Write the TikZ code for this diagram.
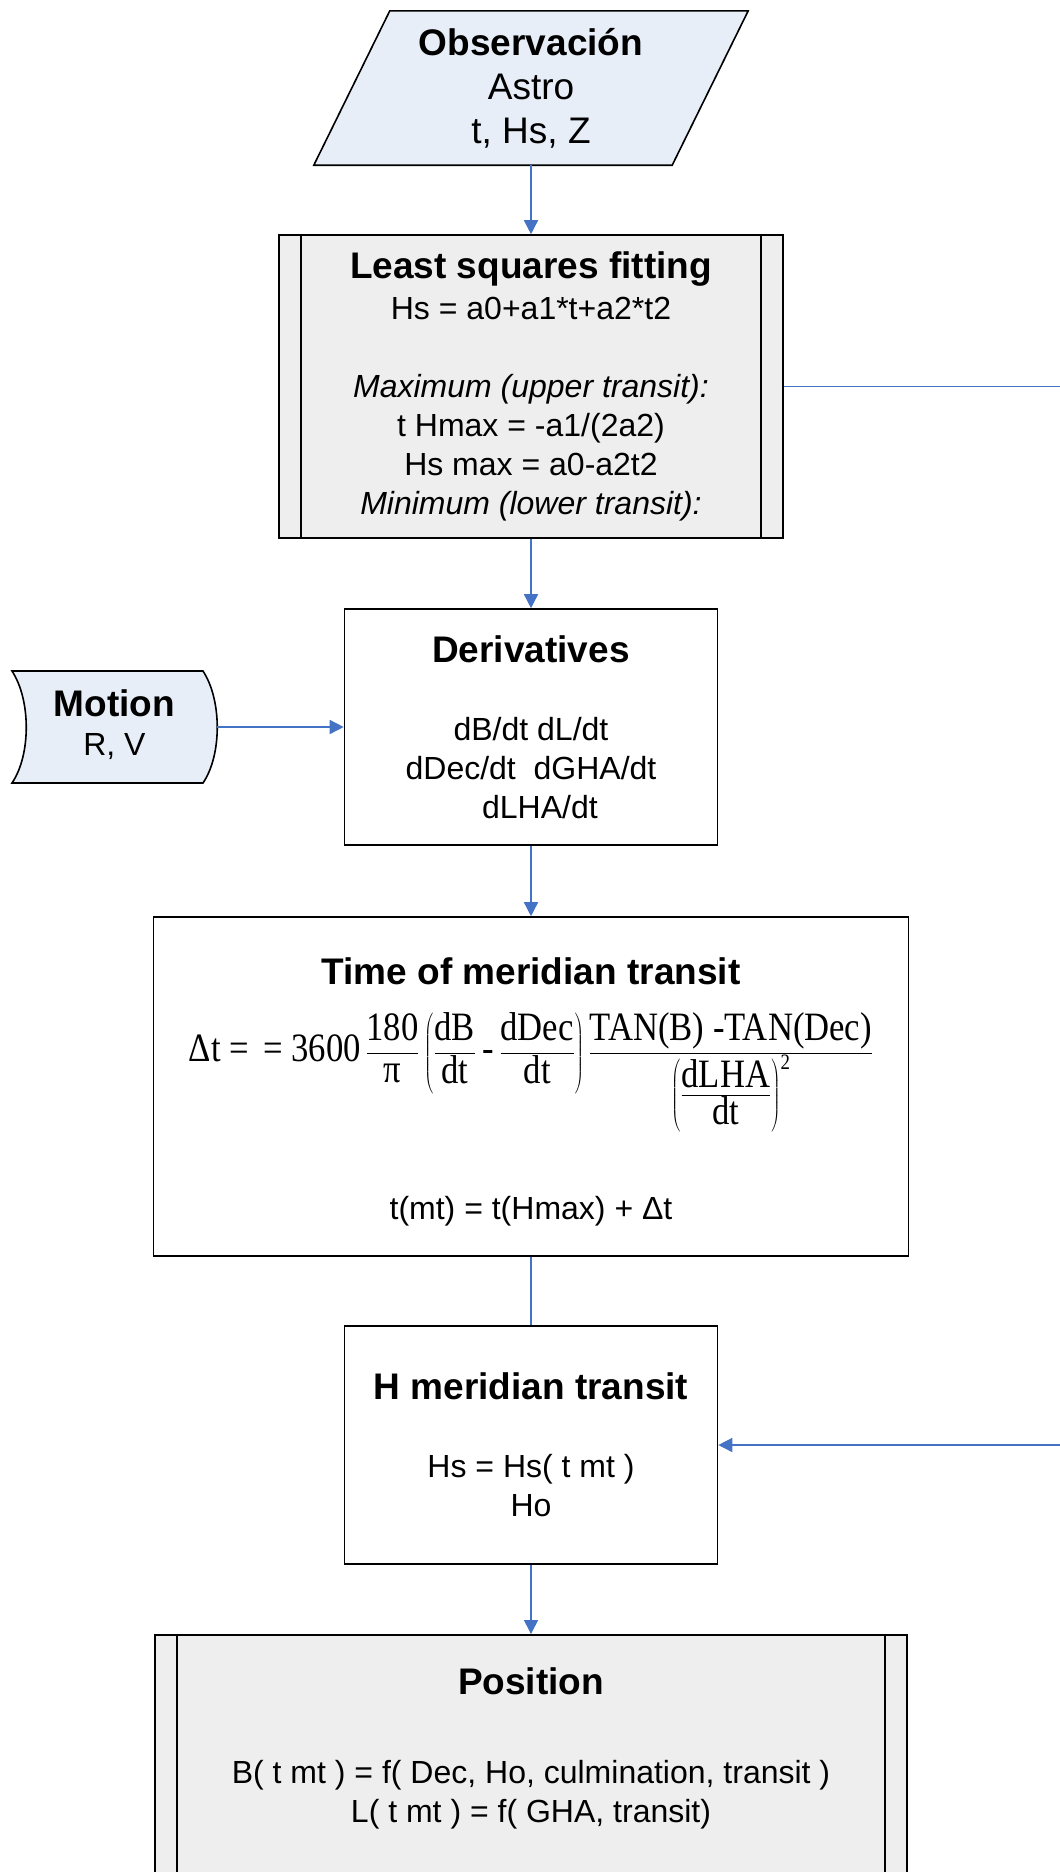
\documentclass[tikz,border=0pt]{standalone}
\usepackage{fontspec}
\usepackage{graphicx}
\setmainfont{Liberation Sans}
\newfontfamily\fml{Liberation Serif}
\usetikzlibrary{arrows.meta}
\definecolor{linkblue}{RGB}{68,114,196}
\definecolor{datafill}{RGB}{232,238,247}
\definecolor{subfill}{RGB}{238,238,238}
\newcommand\ttl{\fontsize{37}{44}\selectfont\bfseries}
\newcommand\bdy{\fontsize{32}{39}\selectfont}
\newcommand\ftxt[1]{\mbox{\fml #1}}
\newcommand\numstrut{\rule[-6pt]{0pt}{30pt}}
\newcommand\denstrut{\rule[-9pt]{0pt}{30pt}}
\tikzset{
  box/.style={draw,line width=1.6pt,align=center,font=\bdy,inner sep=0pt},
  txt/.style={align=center,inner sep=0pt},
  link/.style={draw=linkblue,line width=1.5pt,-{Triangle[length=14pt,width=14pt]}},
  plain/.style={draw=linkblue,line width=1.5pt}
}
\begin{document}
\begin{tikzpicture}[x=1pt,y=-1pt]
\clip (0,0) rectangle (1060,1872);
\fill[white] (0,0) rectangle (1060,1872);
% input data
\node[txt,minimum width=434pt,minimum height=154pt] (obs) at (531,88) {};
\filldraw[fill=datafill,line width=1.6pt] ([xshift=76pt]obs.north west) -- (obs.north east)
  -- ([xshift=-76pt]obs.south east) -- (obs.south west) -- cycle;
\node[txt,font=\fontsize{37}{44}\selectfont] at (obs) {{\bfseries Observación}\\ Astro\\ t, Hs, Z};
% fitting
\node[box,fill=subfill,minimum width=504pt,minimum height=303pt] (lsq) at (531,386.5)
  {{\ttl Least squares fitting}\\[2pt] Hs = a0+a1*t+a2*t2\\ \mbox{}\\ \itshape Maximum (upper transit):\\
   t Hmax = -a1/(2a2)\\ Hs max = a0-a2t2\\ \itshape Minimum (lower transit):};
\draw[line width=1.6pt] ([xshift=23pt]lsq.north west) -- ([xshift=23pt]lsq.south west);
\draw[line width=1.6pt] ([xshift=-23pt]lsq.north east) -- ([xshift=-23pt]lsq.south east);
% motion
\node[txt,minimum width=205pt,minimum height=112pt] (mot) at (114.5,727) {};
\filldraw[fill=datafill,line width=1.6pt] (12,671) -- (203,671)
  .. controls (222,700) and (222,755) .. (203,783) -- (12,783)
  .. controls (31,755) and (31,700) .. (12,671) -- cycle;
\node[txt,font=\bdy] at ([yshift=2pt]mot.center) {{\ttl Motion}\\ R, V};
% derivatives
\node[box,minimum width=373pt,minimum height=236pt] (der) at (531,727)
  {{\ttl Derivatives}\\ \mbox{}\\ dB/dt dL/dt\\ dDec/dt~~dGHA/dt\\ ~~dLHA/dt};
% transit time
\node[box,minimum width=755pt,minimum height=339pt] (tim) at (531,1086.5)
  {{\ttl\rule{0pt}{37pt}Time of meridian transit}\\[26pt]
   \fontsize{33}{40}\selectfont
   \scalebox{1.05}[1.22]{$\displaystyle \ftxt{Δt = \,= 3600}\,\frac{\ftxt{180}\numstrut}{\ftxt{π}\denstrut}
    \left(\frac{\ftxt{dB}\numstrut}{\ftxt{dt}\denstrut}\ftxt{\,-\,}\frac{\ftxt{dDec}\numstrut}{\ftxt{dt}\denstrut}\right)
    \frac{\ftxt{TAN(B) -TAN(Dec)}\numstrut}{\left(\frac{\ftxt{dLHA}\numstrut}{\ftxt{dt}\denstrut}\right)^{\ftxt{\fontsize{18}{18}\selectfont 2}}}$}\\[60pt]
   \bdy t(mt) = t(Hmax) + Δt};
% transit height
\node[box,minimum width=373pt,minimum height=238pt] (hmt) at (531,1445)
  {{\ttl H meridian transit}\\ \mbox{}\\ Hs = Hs( t mt )\\ Ho};
% position
\node[box,fill=subfill,minimum width=752pt,minimum height=299pt,anchor=north] (pos) at (531,1634)
  {{\ttl Position}\\[11pt] \mbox{}\\ B( t mt ) = f( Dec, Ho, culmination, transit )\\ L( t mt ) = f( GHA, transit)\\ \mbox{}\\ \mbox{}};
\draw[line width=1.6pt] ([xshift=23pt]pos.north west) -- ([xshift=23pt]pos.south west);
\draw[line width=1.6pt] ([xshift=-23pt]pos.north east) -- ([xshift=-23pt]pos.south east);
% connectors
\draw[link] (obs.south) -- (lsq.north);
\draw[link] (lsq.south) -- (der.north);
\draw[link] (mot.east) -- (der.west);
\draw[link] (der.south) -- (tim.north);
\draw[plain] (tim.south) -- (hmt.north);
\draw[link] (hmt.south) -- (pos.north);
\draw[link] (lsq.east) -- (1100,386.5) |- (hmt.east);
\end{tikzpicture}
\end{document}
